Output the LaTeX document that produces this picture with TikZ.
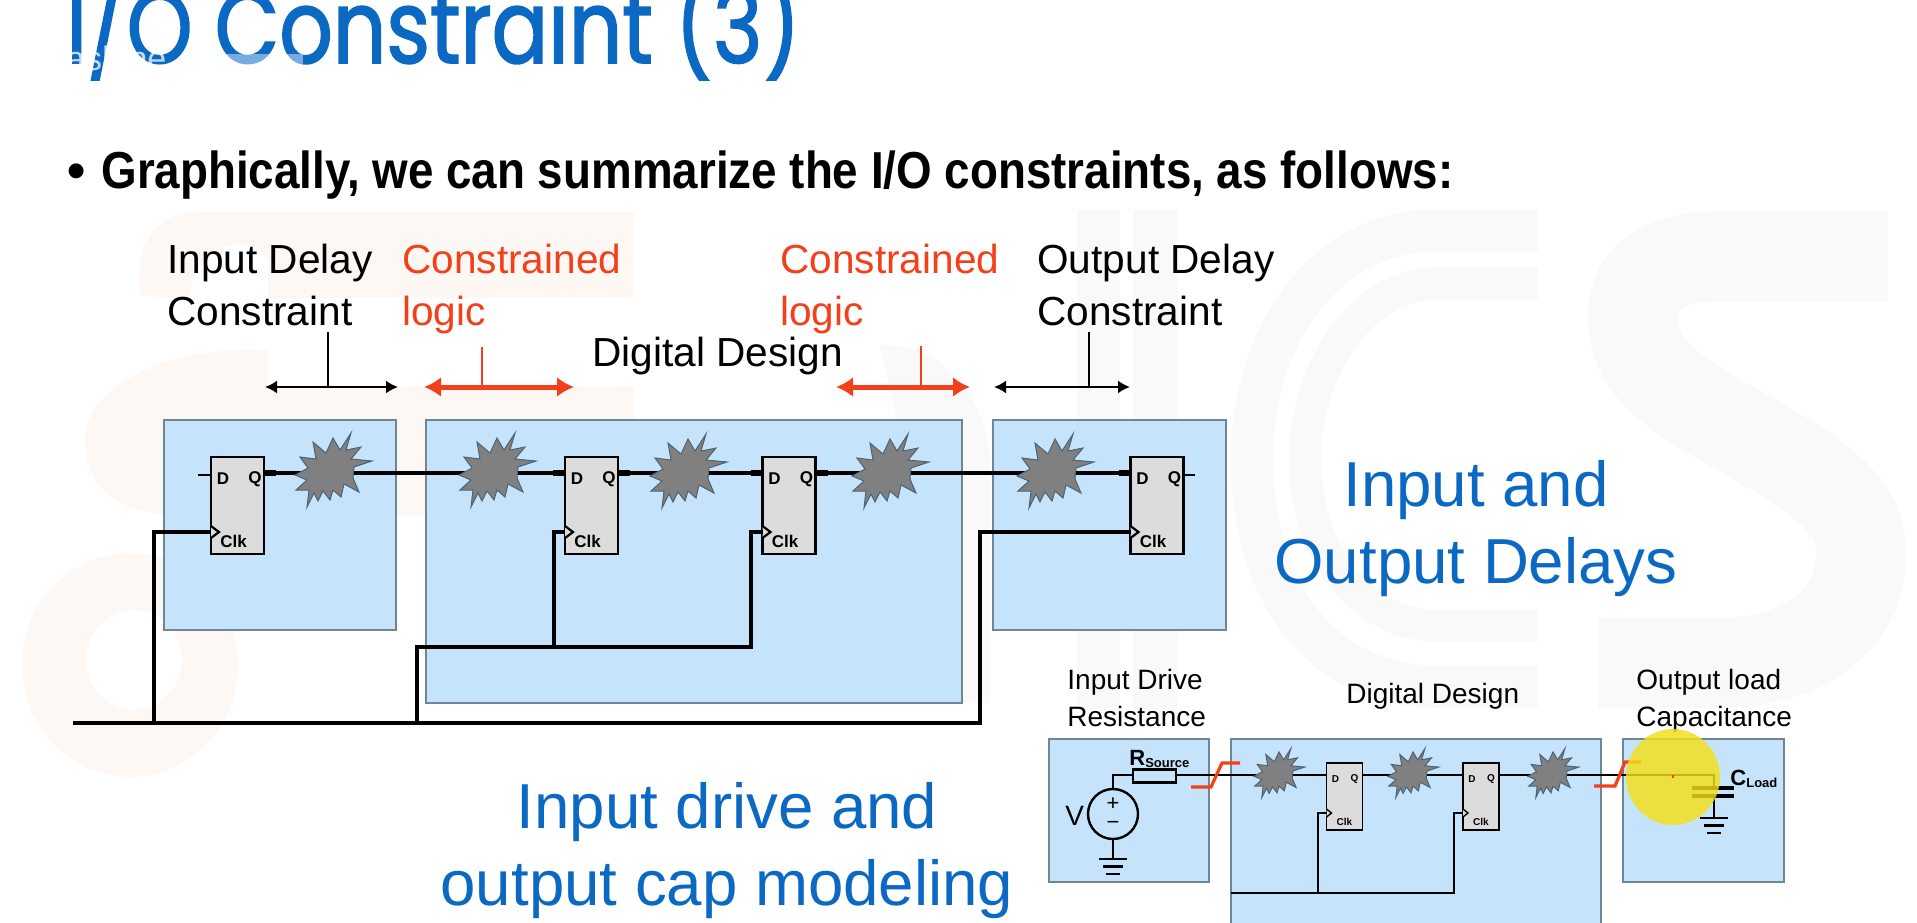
\documentclass[tikz,border=0pt]{standalone}
\usepackage{fontspec}
\setmainfont{Liberation Sans}
\newfontfamily\titlefont{Poppins}[FakeStretch=0.82,FakeBold=1.6]
\newfontfamily\headfont{Liberation Sans}[FakeStretch=0.88]
\usepackage{tikz}
\usetikzlibrary{arrows.meta}
\definecolor{titleblue}{HTML}{0B69C3}
\definecolor{boxblue}{HTML}{C5E4FB}
\definecolor{boxline}{HTML}{6F8794}
\definecolor{ffgrey}{HTML}{DCDCDC}
\definecolor{burstgrey}{HTML}{808080}
\definecolor{burstline}{HTML}{4E6373}
\definecolor{redline}{HTML}{F4401A}
\definecolor{logosalmon}{HTML}{FEF8F4}
\definecolor{logogrey}{HTML}{F9F9F9}
\definecolor{cursor}{HTML}{F5DE18}
\tikzset{
  blockbox/.style={draw=boxline,fill=boxblue,line width=0.8pt},
  ffbox/.style={draw=black,fill=ffgrey,line width=1.3pt,minimum width=26.5pt,minimum height=48.5pt,inner sep=0pt,outer sep=0pt},
  ffboxsmall/.style={draw=black,fill=ffgrey,line width=0.9pt,minimum width=18pt,minimum height=33.5pt,inner sep=0pt,outer sep=0pt},
  wire/.style={draw=black,line width=1.8pt,line join=miter},
  lowwire/.style={draw=black,line width=1.4pt,line join=miter},
  stubwire/.style={draw=black,line width=2.6pt},
  thinwire/.style={draw=black,line width=1pt},
  lbl/.style={inner sep=0pt,anchor=base west,font=\fontsize{20.3pt}{20.3pt}\selectfont},
  lblsmall/.style={inner sep=0pt,anchor=base west,font=\fontsize{14pt}{14pt}\selectfont},
  bigblue/.style={inner sep=0pt,anchor=base,text=titleblue,font=\fontsize{31.8pt}{31.8pt}\selectfont},
  pinlbl/.style={inner sep=0pt,font=\bfseries\fontsize{8.5pt}{8.5pt}\selectfont},
  pinlblsmall/.style={inner sep=0pt,font=\bfseries\fontsize{5pt}{5pt}\selectfont},
  burst/.pic={\draw[fill=burstgrey,draw=burstline,line width=0.5pt]
    (18,-37) -- (13,-20) -- (28,-23) -- (18,-11) -- (39,-9) -- (21,-3) -- (20,8) -- (26,22)
    -- (11,14) -- (8,27) -- (0,20) -- (-3,30) -- (-10,21) -- (-15,31) -- (-19,23) -- (-26,37)
    -- (-24,20) -- (-37,20) -- (-26,10) -- (-38,5) -- (-25,-2) -- (-33,-13) -- (-17,-11)
    -- (-20,-28) -- (-7,-17) -- (0,-32) -- (7,-20) -- cycle;},
  blackarrow/.style={draw=black,line width=1pt,{Latex[length=6pt,width=6.5pt]}-{Latex[length=6pt,width=6.5pt]}},
  redarrow/.style={draw=redline,line width=2.5pt,{Latex[length=8.5pt,width=10pt]}-{Latex[length=8.5pt,width=10pt]}},
}
\begin{document}
\begin{tikzpicture}[x=0.5pt,y=-0.5pt]
\useasboundingbox (0,0) rectangle (1917,922);
\fill[white] (0,0) rectangle (1917,922);
% faded logo behind everything
\fill[logosalmon] (634,212) -- (200,212) .. controls (150,212) and (135,250) .. (140,295) -- (190,300)
  .. controls (190,250) and (250,225) .. (268,262) -- (268,298) -- (634,298) -- cycle;
\fill[logosalmon] (634,387) -- (634,425) -- (426,425) -- (426,515) -- (164,515) -- (140,510)
  .. controls (100,500) and (85,470) .. (85,440) .. controls (85,385) and (170,345) .. (268,350) -- (268,387) -- cycle;
\fill[logosalmon,even odd rule] (130,665) ellipse [x radius=108,y radius=112] (134,660) ellipse [x radius=48,y radius=50];
\fill[logogrey] (880,345) .. controls (950,345) and (985,400) .. (990,460) -- (990,703) -- (963,703) -- cycle;
\fill[logogrey] (1077,210) rectangle (1120,710);
\fill[logogrey] (1133,210) rectangle (1178,710);
\draw[logogrey,line width=21pt] (1538,230) -- (1440,230) .. controls (1320,230) and (1252,340) .. (1252,460) .. controls (1252,590) and (1320,687) .. (1440,687) -- (1538,687);
\draw[logogrey,line width=16pt] (1538,283) -- (1440,283) .. controls (1360,283) and (1305,370) .. (1305,460) .. controls (1305,550) and (1360,626) .. (1440,626) -- (1538,626);
\draw[logogrey,line width=45pt] (1888,256) -- (1720,256) .. controls (1640,256) and (1620,300) .. (1640,350) .. controls (1670,420) and (1850,460) .. (1860,540) .. controls (1870,620) and (1800,663) .. (1720,663) -- (1598,663);
% title, cut off by the frame of the video
\begin{scope}
\clip (0,0) rectangle (1917,80);
\node[inner sep=0pt,anchor=base west,text=titleblue] (title) at (66,63) {\titlefont\fontsize{51pt}{51pt}\selectfont I/O Constraint (3)};
\end{scope}
\fill[white,opacity=0.45] (190,54) rectangle (303,80);
\node[inner sep=0pt,anchor=base west,text=white,opacity=0.75,font=\fontsize{17pt}{17pt}\selectfont] (mark) at (28,70) {enashine};
\node[inner sep=0pt,anchor=base west,font=\bfseries\fontsize{26pt}{26pt}\selectfont] (bullet) at (67,188) {\textbullet};
\node[inner sep=0pt,anchor=base west,font=\headfont\bfseries\fontsize{26pt}{26pt}\selectfont] (head) at (101,188) {Graphically, we can summarize the I/O constraints, as follows:};
% labels of the upper design
\node[lbl] (inlabela) at (167,273) {Input Delay};
\node[lbl] (inlabelb) at (167,325) {Constraint};
\node[lbl,text=redline] (redlabela) at (402,273) {Constrained};
\node[lbl,text=redline] (redlabelb) at (402,325) {logic};
\node[lbl,text=redline] (redlabelc) at (780,273) {Constrained};
\node[lbl,text=redline] (redlabeld) at (780,325) {logic};
\node[lbl] (outlabela) at (1037,273) {Output Delay};
\node[lbl] (outlabelb) at (1037,325) {Constraint};
\node[lbl] (designlabel) at (592,366) {Digital Design};
\coordinate (ina) at (265,387); \coordinate (inb) at (398,387); \coordinate (inm) at (328,387); \coordinate (int) at (328,332);
\coordinate (ra) at (424,387); \coordinate (rb) at (574,387); \coordinate (rm) at (482,387); \coordinate (rt) at (482,347);
\coordinate (sa) at (836,387); \coordinate (sb) at (970,387); \coordinate (sm) at (921,387); \coordinate (st) at (921,346);
\coordinate (outa) at (994,387); \coordinate (outb) at (1130,387); \coordinate (outm) at (1089,387); \coordinate (outt) at (1089,332);
\draw[blackarrow] (ina) -- (inb);
\draw[black,line width=0.7pt] (int) -- (inm);
\draw[redarrow] (ra) -- (rb);
\draw[redline,line width=0.6pt] (rt) -- (rm);
\draw[redarrow] (sa) -- (sb);
\draw[redline,line width=0.6pt] (st) -- (sm);
\draw[blackarrow] (outa) -- (outb);
\draw[black,line width=0.7pt] (outt) -- (outm);
% upper design
\fill[blockbox] (164,420) rectangle (396,630);
\fill[blockbox] (426,420) rectangle (962,703);
\fill[blockbox] (993,420) rectangle (1226,630);
\foreach \name/\xx in {ffa/237.5,ffb/591.5,ffc/789,ffd/1157}{
  \node[ffbox] (\name) at (\xx,505.5) {};
  \coordinate (\name d) at (\xx-26.5,473);
  \coordinate (\name q) at (\xx+26.5,473);
  \coordinate (\name c) at (\xx-26.5,532);
  \node[pinlbl] (\name dl) at (\xx-14.5,479) {D};
  \node[pinlbl] (\name ql) at (\xx+17.5,479) {Q};
  \node[pinlbl] (\name cl) at (\xx-4,541) {Clk};
  \draw[black,line width=1.1pt,fill=ffgrey] (\xx-26.5,526) -- (\xx-18.5,532) -- (\xx-26.5,538);
}
\coordinate (stuba) at (198,475);
\coordinate (stubb) at (1195,475);
\draw[thinwire] (stuba) -- (ffa.west |- stuba);
\draw[thinwire] (ffd.east |- stubb) -- (stubb);
\draw[wire] (ffaq) -- (ffbd);
\draw[wire] (ffbq) -- (ffcd);
\draw[wire] (ffcq) -- (ffdd);
\foreach \name in {ffa,ffb,ffc}{\draw[stubwire] (\name q) -- ++(12,0);}
\foreach \name in {ffb,ffc,ffd}{\draw[stubwire] (\name d) -- ++(-12,0);}
\path pic at (333,470) {burst};
\path pic at (497,470) {burst};
\path pic at (688,471) {burst};
\path pic at (890,471) {burst};
\path pic at (1055,471) {burst};
% clock tree
\coordinate (busl) at (73,723);
\coordinate (busr) at (980,723);
\coordinate (busa) at (154,723);
\coordinate (busb) at (417,723);
\coordinate (tapa) at (417,647);
\coordinate (tapb) at (554,647);
\coordinate (tapc) at (751,647);
\draw[wire] (busl) -- (busr) |- (ffdc);
\draw[wire] (busa) |- (ffac);
\draw[wire] (busb) -- (tapa) -- (tapc) |- (ffcc);
\draw[wire] (tapb) |- (ffbc);
% lower design
\node[lblsmall] (drivea) at (1067,689) {Input Drive};
\node[lblsmall] (driveb) at (1067,726) {Resistance};
\node[lblsmall] (designb) at (1346,703) {Digital Design};
\node[lblsmall] (loada) at (1636,689) {Output load};
\node[lblsmall] (loadb) at (1636,726) {Capacitance};
\fill[blockbox] (1049,739) rectangle (1209,882);
\fill[blockbox] (1231,739) rectangle (1601,925);
\fill[blockbox] (1623,739) rectangle (1784,882);
\foreach \name/\xx in {ffe/1344.5,fff/1481}{
  \node[ffboxsmall] (\name) at (\xx,796.5) {};
  \coordinate (\name d) at (\xx-18,775);
  \coordinate (\name q) at (\xx+18,775);
  \coordinate (\name c) at (\xx-18,813);
  \node[pinlblsmall] (\name dl) at (\xx-9,779) {D};
  \node[pinlblsmall] (\name ql) at (\xx+10,779) {Q};
  \node[pinlblsmall] (\name cl) at (\xx+0,822) {Clk};
  \draw[black,line width=0.7pt,fill=ffgrey] (\xx-18,809) -- (\xx-13,813) -- (\xx-18,817);
}
\node[draw=black,line width=1.2pt,circle,minimum size=25pt,inner sep=0pt,outer sep=0pt] (source) at (1113,814) {};
\node[inner sep=0pt,font=\fontsize{11pt}{11pt}\selectfont] (plus) at (1113,804) {+};
\node[inner sep=0pt,font=\fontsize{11pt}{11pt}\selectfont] (minus) at (1113,825) {\textminus};
\node[lblsmall] (vlabel) at (1065,825) {V};
\node[draw=black,line width=1.1pt,fill=boxblue,minimum width=21.5pt,minimum height=6.5pt,inner sep=0pt,outer sep=0pt] (rsource) at (1154.5,776) {};
\node[inner sep=0pt,anchor=base west,font=\bfseries\fontsize{11pt}{11pt}\selectfont] (rlabel) at (1129,765) {R\fontsize{6.5pt}{6.5pt}\selectfont\raisebox{-1pt}{Source}};
\node[inner sep=0pt,anchor=base west,font=\bfseries\fontsize{11pt}{11pt}\selectfont] (clabel) at (1730,785) {C\fontsize{6.5pt}{6.5pt}\selectfont\raisebox{-1pt}{Load}};
\coordinate (lowc) at (1113,775);
\coordinate (lowe) at (1714,775);
\coordinate (capa) at (1714,788);
\coordinate (capb) at (1714,796);
\coordinate (gnda) at (1113,859);
\coordinate (gndb) at (1714,818);
\draw[lowwire] (source.north) -- (lowc) -- (rsource.west |- lowc);
\draw[lowwire] (rsource.east |- lowc) -- (ffed);
\draw[lowwire] (ffeq) -- (fffd);
\draw[lowwire] (fffq) -- (lowe) -- (capa);
\draw[lowwire] (capb) -- (gndb);
\draw[lowwire] (source.south) -- (gnda);
\path pic[scale=0.66] at (1279,773) {burst};
\path pic[scale=0.66] at (1413,773) {burst};
\path pic[scale=0.66] at (1553,773) {burst};
\draw[lowwire,line width=1.6pt] (1692,788) -- (1734,788);
\draw[lowwire,line width=1.6pt] (1692,796) -- (1734,796);
\foreach \gx/\gy in {1113/859,1714/818}{
  \draw[lowwire] (\gx-14,\gy) -- (\gx+14,\gy);
  \draw[lowwire] (\gx-10,\gy+7.5) -- (\gx+10,\gy+7.5);
  \draw[lowwire] (\gx-7,\gy+15) -- (\gx+7,\gy+15);
}
\coordinate (clkl) at (1231,893);
\coordinate (clkm) at (1318,893);
\coordinate (clkr) at (1454,893);
\draw[lowwire] (clkl) -- (clkr) |- (fffc);
\draw[lowwire] (clkm) |- (ffec);
\draw[redline,line width=1.6pt] (1191,787) -- (1211,787) -- (1222,763) -- (1240,763);
\draw[redline,line width=1.6pt] (1594,786) -- (1615,786) -- (1625,762) -- (1641,762);
% pointer of the presenter
\fill[cursor,opacity=0.82] (1673,777) ellipse [x radius=47,y radius=48];
\fill[redline] (1672,775) rectangle (1674,778);
% big captions
\node[bigblue] (caponea) at (1476,506) {Input and};
\node[bigblue] (caponeb) at (1476,583) {Output Delays};
\node[bigblue] (captwoa) at (727,828) {Input drive and};
\node[bigblue] (captwob) at (727,905) {output cap modeling};
\end{tikzpicture}
\end{document}
